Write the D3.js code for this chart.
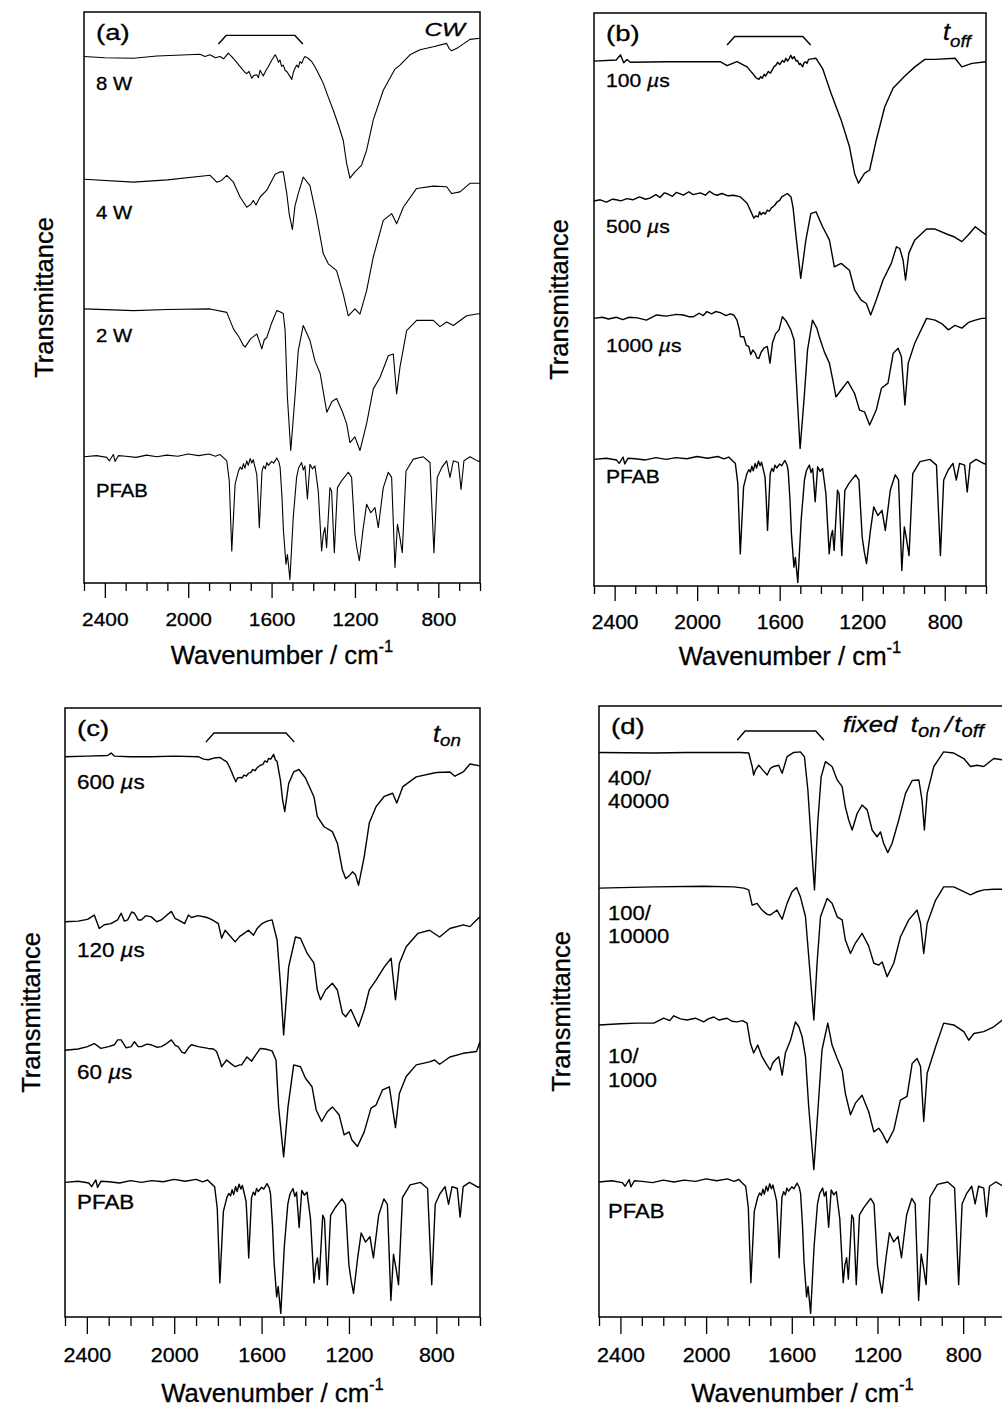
<!DOCTYPE html>
<html>
<head>
<meta charset="utf-8">
<script src="https://cdn.jsdelivr.net/npm/d3@7"></script>
<style>
  body { margin: 0; background: #fff; }
  svg { display: block; font-family: "Liberation Sans", Arial, Helvetica, sans-serif; }
  svg text { stroke: #000; stroke-width: 0.3px; }
</style>
</head>
<body>
<svg id="fig" width="1002" height="1408"></svg>
<script>
// IR spectra of PFAB and its plasma polymers, four panels

// axis
var majorTicks = [2400, 2000, 1600, 1200, 800];
var minorTicks = [2500, 2300, 2200, 2100, 1900, 1800, 1700, 1500, 1400, 1300, 1100, 1000, 900, 700, 600];

// monomer reference spectrum, same in every panel
var pfab = [[2500,22.1],[2440,22.3],[2391,22.0],[2378,21.4],[2359,22.5],[2351,21.3],[2335,22.3],[2300,22.2],
  [2250,22.0],[2200,22.4],[2150,22.1],[2103,22.4],[2050,22.2],[2000,22.6],[1950,22.3],[1900,22.6],[1870,22.2],
  [1847,22.5],[1830,21.9],[1815,21.4],[1803,17.9],[1791,5.6],[1775,17.3],[1759,19.6],[1750,20.3],[1742,19.9],
  [1735,20.9],[1728,20.1],[1719,21.4],[1712,20.6],[1703,21.8],[1695,21.0],[1688,21.6],[1680,20.4],[1671,19.0],
  [1665,15.0],[1659,9.7],[1652,15.0],[1646,19.6],[1638,20.5],[1630,20.0],[1623,21.1],[1615,20.6],[1600,21.3],
  [1590,21.0],[1575,21.9],[1565,21.2],[1559,20.2],[1550,15.0],[1543,9.1],[1531,3.3],[1524,5.0],[1512,0.6],
  [1496,11.5],[1480,18.5],[1470,20.2],[1456,21.1],[1448,19.8],[1440,20.5],[1428,14.7],[1416,20.8],[1404,20.0],
  [1392,20.5],[1376,16.1],[1360,5.6],[1352,8.5],[1344,9.7],[1336,6.2],[1320,16.7],[1312,16.1],[1299,5.3],
  [1284,16.7],[1264,17.9],[1232,19.4],[1216,18.5],[1200,8.5],[1190,6.0],[1179,3.9],[1160,9.7],[1144,13.8],
  [1124,12.3],[1104,13.2],[1088,9.7],[1064,16.7],[1040,19.4],[1024,18.5],[1008,2.7],[996,10.3],[984,7.9],
  [973,5.3],[955,19.6],[920,21.7],[872,22.1],[840,21.1],[821,5.3],[805,18.5],[784,20.2],[760,21.4],[744,18.5],
  [728,21.4],[704,21.1],[691,16.4],[677,21.4],[648,22.1],[608,21.3],[600,21.4]];

// (a) CW power series
var cw8 = [[2500,92.2],[2400,92.0],[2263,91.9],[2150,92.3],[2000,92.5],[1943,92.6],[1920,92.2],[1895,92.5],
  [1870,92.0],[1847,92.2],[1830,91.8],[1808,92.8],[1795,92.3],[1784,91.9],[1770,91.3],[1755,90.6],[1743,90.1],
  [1730,89.5],[1719,89.2],[1708,89.6],[1695,88.4],[1685,88.9],[1671,89.0],[1663,88.5],[1655,89.8],[1648,89.3],
  [1640,88.8],[1628,89.7],[1616,90.4],[1600,91.5],[1583,92.5],[1575,92.0],[1567,91.2],[1560,91.6],[1552,90.5],
  [1544,90.7],[1535,89.8],[1525,89.5],[1515,88.9],[1503,88.2],[1495,89.5],[1487,90.2],[1479,90.7],[1471,90.3],
  [1464,91.3],[1455,91.0],[1447,91.8],[1440,92.2],[1425,91.9],[1407,91.3],[1395,90.6],[1383,89.8],[1365,88.5],
  [1352,87.5],[1328,85.1],[1304,82.8],[1280,80.3],[1256,77.5],[1240,73.5],[1224,70.9],[1200,72.0],[1168,73.2],
  [1144,75.8],[1112,81.1],[1064,86.3],[1008,90.0],[984,90.7],[936,92.5],[888,93.4],[824,93.9],[760,94.5],
  [748,93.6],[736,93.2],[704,93.8],[648,95.2],[600,95.4]];
var cw4 = [[2500,70.7],[2263,70.2],[2100,70.6],[1895,71.4],[1863,70.2],[1840,70.5],[1815,71.4],[1783,70.2],
  [1751,67.6],[1719,65.8],[1700,66.3],[1688,67.0],[1675,66.2],[1655,67.6],[1623,68.8],[1583,71.6],[1560,72.0],
  [1544,72.0],[1527,68.2],[1515,64.5],[1500,61.9],[1488,66.0],[1472,68.2],[1448,71.1],[1416,69.6],[1384,64.1],
  [1352,57.7],[1328,55.9],[1288,54.7],[1256,50.6],[1232,46.8],[1200,48.0],[1176,47.1],[1144,51.2],[1112,57.1],
  [1064,63.5],[1024,64.7],[1000,62.9],[968,65.8],[904,69.1],[824,69.5],[760,69.4],[736,68.2],[696,68.5],
  [648,70.0],[600,70.0]];
var cw2 = [[2500,48.0],[2263,47.7],[2100,47.9],[1895,48.0],[1815,47.4],[1783,44.5],[1755,43.0],[1735,41.6],
  [1727,41.3],[1700,42.8],[1671,43.6],[1660,42.5],[1647,41.0],[1635,42.6],[1623,43.0],[1600,45.5],[1575,47.7],
  [1560,47.5],[1544,47.2],[1535,44.2],[1524,32.5],[1508,23.2],[1488,32.5],[1472,40.7],[1448,45.1],[1416,42.5],
  [1392,38.9],[1367,36.7],[1335,29.9],[1310,31.8],[1288,32.3],[1260,30.0],[1240,27.9],[1224,24.6],[1200,25.6],
  [1176,23.2],[1144,27.9],[1112,34.0],[1080,36.0],[1040,39.8],[1016,40.1],[1000,33.1],[984,37.8],[952,44.2],
  [904,46.0],[824,46.0],[792,44.9],[760,45.7],[728,45.1],[664,46.8],[600,47.2]];

// (b) t_off series
var off100 = [[2500,91.6],[2392,91.8],[2372,92.7],[2356,91.3],[2340,91.9],[2324,91.4],[2148,91.5],[1888,91.5],
  [1855,90.8],[1807,91.5],[1758,90.6],[1735,89.6],[1725,89.2],[1715,88.7],[1701,88.4],[1692,88.9],[1685,88.6],
  [1675,89.3],[1668,89.0],[1655,89.8],[1645,89.5],[1628,90.6],[1618,90.9],[1610,91.4],[1600,91.0],[1587,91.7],
  [1578,91.4],[1570,92.1],[1562,91.6],[1555,92.0],[1546,92.6],[1538,92.0],[1530,92.4],[1520,91.6],[1514,91.7],
  [1505,91.0],[1500,91.2],[1489,90.6],[1482,91.3],[1475,91.5],[1468,91.2],[1460,91.9],[1445,92.0],[1424,92.1],
  [1392,90.3],[1351,86.0],[1302,81.3],[1262,76.7],[1237,72.0],[1218,70.3],[1189,72.0],[1164,72.6],[1132,77.8],
  [1091,83.6],[1050,86.9],[993,89.0],[945,90.6],[896,91.9],[847,91.9],[750,92.1],[717,90.6],[668,91.2],[600,91.5]];
var off500 = [[2500,67.2],[2470,67.4],[2440,67.0],[2410,67.5],[2392,67.4],[2370,67.2],[2340,67.6],[2311,67.4],
  [2280,67.9],[2250,67.5],[2229,67.7],[2200,68.3],[2180,67.8],[2160,68.6],[2148,68.5],[2120,68.0],[2100,68.7],
  [2067,68.2],[2040,68.8],[2020,68.3],[1985,68.6],[1960,68.2],[1940,68.9],[1920,68.4],[1904,68.2],[1880,68.5],
  [1850,68.1],[1823,68.2],[1790,67.9],[1758,66.8],[1725,64.2],[1715,64.6],[1705,64.4],[1697,65.3],[1690,64.8],
  [1680,65.2],[1670,64.9],[1660,65.6],[1650,65.4],[1640,66.0],[1625,66.4],[1611,67.1],[1600,67.3],[1590,67.9],
  [1563,68.5],[1545,67.9],[1535,66.0],[1522,61.5],[1498,53.7],[1473,60.4],[1449,65.0],[1424,65.3],[1392,62.7],
  [1359,60.4],[1335,55.7],[1302,56.3],[1262,55.1],[1237,51.7],[1205,49.9],[1180,49.3],[1159,47.3],[1132,49.9],
  [1099,53.4],[1059,56.3],[1034,59.2],[1018,58.9],[1002,56.9],[990,53.4],[974,58.1],[945,60.4],[888,62.3],
  [847,62.3],[782,61.3],[758,61.0],[717,60.1],[685,61.3],[652,62.7],[620,61.8],[600,61.3]];
var off1000 = [[2500,46.7],[2460,46.9],[2430,46.6],[2392,46.9],[2360,46.5],[2330,46.9],[2290,46.8],[2246,46.4],
  [2220,46.9],[2197,47.3],[2150,47.1],[2100,47.4],[2067,47.3],[2040,47.0],[2018,47.0],[1990,47.6],[1970,47.2],
  [1953,47.9],[1930,47.5],[1910,47.9],[1888,47.7],[1860,47.2],[1840,47.5],[1823,47.3],[1807,46.4],[1795,44.7],
  [1790,43.5],[1774,43.5],[1762,42.0],[1750,41.8],[1740,40.4],[1730,41.2],[1718,40.6],[1710,39.8],[1701,39.7],
  [1690,40.8],[1676,41.5],[1660,41.8],[1647,38.9],[1635,42.4],[1620,44.0],[1603,44.7],[1587,47.0],[1570,46.3],
  [1546,44.7],[1530,42.9],[1515,33.0],[1501,24.0],[1481,33.0],[1465,41.2],[1441,46.4],[1420,45.0],[1408,43.5],
  [1384,40.9],[1359,38.9],[1343,36.0],[1327,33.0],[1302,34.2],[1270,35.7],[1237,33.6],[1213,30.7],[1189,30.4],
  [1164,28.1],[1132,30.7],[1107,34.5],[1075,35.4],[1050,40.6],[1026,41.5],[1010,40.0],[993,31.6],[977,38.9],
  [945,42.4],[888,46.7],[847,46.4],[815,45.8],[782,44.7],[750,45.5],[717,45.0],[685,46.0],[652,46.4],[620,46.7],
  [600,46.7]];

// (c) t_on series
var on600 = [[2500,92.0],[2400,92.1],[2305,92.2],[2289,92.6],[2274,92.1],[2200,92.0],[2105,92.0],[2000,92.1],
  [1890,92.0],[1865,91.6],[1844,91.5],[1815,91.8],[1791,91.9],[1775,91.5],[1760,91.2],[1748,90.4],[1737,89.5],
  [1728,88.7],[1718,87.9],[1710,88.5],[1698,88.6],[1690,88.5],[1680,89.0],[1670,88.8],[1660,89.3],[1650,89.4],
  [1640,89.9],[1630,89.7],[1620,90.2],[1606,90.6],[1595,90.7],[1585,91.3],[1575,91.1],[1568,91.7],[1558,91.6],
  [1545,92.4],[1537,91.5],[1529,91.2],[1514,88.2],[1504,85.0],[1494,83.0],[1476,87.6],[1453,89.5],[1429,89.9],
  [1399,88.5],[1360,85.4],[1345,82.2],[1314,80.5],[1276,79.7],[1253,77.8],[1230,73.4],[1215,72.0],[1200,72.4],
  [1184,73.1],[1170,72.6],[1156,70.9],[1130,75.6],[1107,81.1],[1076,83.8],[1038,85.5],[1000,86.0],[981,84.4],
  [953,87.1],[892,88.7],[800,89.4],[738,89.5],[715,88.8],[677,89.5],[646,90.8],[600,90.5]];
var on120 = [[2500,64.9],[2440,65.0],[2397,65.3],[2366,66.0],[2343,63.8],[2320,64.4],[2290,64.6],[2259,65.2],
  [2243,66.3],[2228,65.0],[2213,65.2],[2195,66.5],[2182,66.3],[2165,65.2],[2151,65.2],[2130,65.9],[2105,65.7],
  [2080,64.9],[2059,65.2],[2040,65.8],[2013,66.6],[1995,65.4],[1982,65.2],[1952,64.6],[1935,66.0],[1921,65.6],
  [1890,65.9],[1850,65.6],[1830,65.3],[1798,64.6],[1783,62.2],[1767,63.5],[1745,62.6],[1721,61.6],[1700,62.5],
  [1691,62.7],[1660,63.5],[1637,62.7],[1620,63.8],[1598,64.6],[1575,65.0],[1552,65.2],[1529,61.9],[1514,54.8],
  [1499,46.3],[1476,57.5],[1445,62.4],[1422,62.2],[1391,59.7],[1360,58.1],[1345,53.7],[1330,52.1],[1307,53.7],
  [1276,54.8],[1253,53.7],[1230,49.9],[1215,49.3],[1191,50.5],[1156,47.7],[1130,50.4],[1107,53.7],[1076,55.3],
  [1038,57.5],[1007,58.9],[987,52.1],[969,58.1],[938,60.8],[884,63.0],[831,63.5],[785,62.4],[738,63.8],
  [677,64.4],[646,64.1],[616,65.2],[600,65.7]];
var on60 = [[2500,43.8],[2440,44.0],[2397,44.4],[2366,44.9],[2336,44.1],[2300,44.4],[2274,44.7],[2259,45.5],
  [2243,45.5],[2220,44.2],[2197,44.4],[2182,45.2],[2165,44.4],[2151,44.4],[2125,44.8],[2105,44.7],[2080,44.3],
  [2059,44.4],[2035,44.9],[2013,45.5],[1995,44.6],[1982,44.4],[1965,43.5],[1952,43.3],[1935,44.2],[1921,44.7],
  [1890,44.4],[1844,44.1],[1820,44.0],[1806,43.6],[1790,42.0],[1783,41.1],[1760,42.2],[1740,41.6],[1721,41.1],
  [1700,41.4],[1691,41.4],[1667,42.7],[1645,42.0],[1637,42.5],[1606,44.1],[1583,44.0],[1552,43.7],[1534,42.2],
  [1522,34.5],[1499,26.3],[1479,34.5],[1453,41.4],[1422,41.1],[1399,39.2],[1369,37.8],[1350,34.0],[1325,32.1],
  [1299,33.7],[1276,34.5],[1245,33.2],[1222,29.9],[1199,30.4],[1187,29.1],[1161,28.0],[1130,30.4],[1099,34.3],
  [1076,34.8],[1046,37.3],[1015,37.8],[987,31.1],[969,36.7],[938,39.5],[892,41.4],[831,41.9],[808,42.2],
  [785,41.5],[738,42.7],[677,43.3],[616,43.6],[600,45.2]];

// (d) fixed t_on/t_off series
var fix400 = [[2500,92.4],[2244,92.3],[2089,92.4],[1840,92.4],[1801,92.3],[1785,90.1],[1778,88.7],[1770,89.5],
  [1754,90.3],[1735,89.5],[1715,88.7],[1700,89.8],[1684,90.1],[1661,90.3],[1645,89.0],[1622,91.7],[1591,92.4],
  [1560,92.5],[1541,91.7],[1525,86.3],[1510,78.1],[1494,69.9],[1479,80.8],[1463,88.4],[1443,90.9],[1412,90.1],
  [1388,87.9],[1365,86.8],[1350,83.5],[1334,81.3],[1318,79.7],[1295,82.4],[1272,83.8],[1248,83.0],[1225,79.7],
  [1202,78.6],[1186,79.4],[1171,77.5],[1152,76.0],[1132,77.5],[1101,81.3],[1069,85.7],[1038,87.8],[1007,87.9],
  [992,84.6],[981,79.7],[968,85.7],[937,90.1],[891,92.5],[844,92.3],[797,91.4],[766,90.1],[735,90.3],[704,90.1],
  [657,91.4],[617,91.2],[600,91.3]];
var fix100 = [[2500,70.2],[2244,70.4],[2011,70.5],[1871,70.4],[1824,70.2],[1801,69.9],[1785,67.4],[1762,67.7],
  [1739,66.6],[1715,65.9],[1700,65.8],[1669,66.6],[1645,65.1],[1622,67.7],[1599,69.6],[1578,70.3],[1560,68.8],
  [1536,65.5],[1521,59.0],[1497,48.6],[1482,57.9],[1466,65.5],[1435,68.5],[1412,67.7],[1388,65.5],[1365,65.0],
  [1350,61.7],[1326,59.5],[1303,61.2],[1272,62.8],[1241,60.7],[1217,57.9],[1194,57.6],[1178,58.1],[1155,55.7],
  [1124,57.9],[1093,62.2],[1054,65.0],[1015,66.6],[999,64.4],[984,59.5],[968,64.4],[929,68.2],[891,70.4],
  [844,70.4],[797,69.6],[766,69.1],[735,69.6],[704,69.9],[657,70.0],[600,70.0]];
var fix10 = [[2500,47.8],[2400,48.0],[2322,48.1],[2244,48.1],[2198,48.9],[2170,48.5],[2151,49.3],[2120,48.8],
  [2089,48.6],[2050,48.9],[2011,48.3],[1990,48.8],[1964,49.1],[1940,48.6],[1902,48.9],[1880,48.4],[1855,48.3],
  [1830,48.5],[1809,48.1],[1793,44.8],[1778,43.2],[1759,44.5],[1739,42.6],[1715,41.2],[1700,40.4],[1690,41.5],
  [1676,42.1],[1661,42.6],[1645,39.6],[1630,43.2],[1606,45.3],[1583,48.3],[1567,47.5],[1552,45.9],[1536,42.6],
  [1521,34.4],[1497,24.1],[1477,34.4],[1459,43.7],[1432,48.1],[1412,44.5],[1388,42.3],[1365,40.4],[1350,36.6],
  [1326,33.1],[1303,35.0],[1272,36.3],[1241,33.6],[1217,30.3],[1194,30.9],[1178,30.1],[1155,28.5],[1124,30.6],
  [1093,35.5],[1062,36.1],[1038,41.5],[1015,42.3],[999,41.0],[984,32.0],[968,39.9],[929,44.2],[891,48.1],
  [844,47.8],[797,46.7],[774,45.3],[750,46.4],[704,46.7],[657,47.5],[617,48.6],[600,48.9]];

// bracket over the 1850-1450 region
var bracketWave = [1855, 1818, 1488, 1450];
var bracketLevel = [94.4, 95.9, 95.9, 94.4];

var tagsText = ['(a)', '(b)', '(c)', '(d)'];
var labelsA = ['8 W', '4 W', '2 W', 'PFAB'];
var labelsB = ['100 |µ|s', '500 |µ|s', '1000 |µ|s', 'PFAB'];
var labelsC = ['600 |µ|s', '120 |µ|s', '60 |µ|s', 'PFAB'];
var labelsD = ['400/\n40000', '100/\n10000', '10/\n1000', 'PFAB'];
var levelsA = [86.3, 63.8, 42.2, 15.1];
var levelsB = [87.0, 61.6, 40.9, 17.9];
var levelsC = [86.7, 59.1, 39.0, 17.7];
var levelsD = [87.1, 65.0, 41.5, 16.2];

var panels = [
  { box: [84, 480, 12, 583], traces: [cw8, cw4, cw2, pfab], labels: labelsA, levels: levelsA,
    lw: 1.1, lab: { dx: 12, size: 17.5, sx: 1.16 }, tick: { size: 19, sx: 1.1, off: 43, major: 15, minor: 8 },
    title: { y: 664, ylabX: 53 }, corner: 'a' },
  { box: [594, 986, 13, 586], traces: [off100, off500, off1000, pfab], labels: labelsB, levels: levelsB,
    lw: 1.4, lab: { dx: 12, size: 18.5, sx: 1.14 }, tick: { size: 19.5, sx: 1.08, off: 43, major: 15, minor: 8 },
    title: { y: 665, ylabX: 568 }, corner: 'b' },
  { box: [65, 480, 708, 1317], traces: [on600, on120, on60, pfab], labels: labelsC, levels: levelsC,
    lw: 1.4, lab: { dx: 12, size: 19.5, sx: 1.15 }, tick: { size: 20.5, sx: 1.05, off: 45, major: 17, minor: 9 },
    title: { y: 1402, ylabX: 40 }, corner: 'c' },
  { box: [599, 1006, 706, 1317], traces: [fix400, fix100, fix10, pfab], labels: labelsD, levels: levelsD,
    lw: 1.4, lab: { dx: 9, size: 21, sx: 1.05, lh: 23.3 }, tick: { size: 20.5, sx: 1.05, off: 45, major: 17, minor: 9 },
    title: { y: 1402, ylabX: 570 }, corner: 'd' }
];

var svg = d3.select('#fig');
svg.append('rect').attr('width', 1002).attr('height', 1408).attr('fill', '#fff');

// text made of runs: {t, it, sz, dy, dx}
function runsText(parent, x, y, runs, size, sx, anchor) {
  var g = parent.append('g').attr('transform', 'translate(' + x + ',' + y + ') scale(' + sx + ',1)');
  var t = g.append('text').attr('font-size', size).attr('text-anchor', anchor || 'start').attr('fill', '#000');
  runs.forEach(function(r) {
    var s = t.append('tspan').text(r.t);
    if (r.it) s.attr('font-style', 'italic');
    if (r.sz) s.attr('font-size', r.sz);
    if (r.dy) s.attr('dy', r.dy);
    if (r.dx) s.attr('dx', r.dx);
  });
  return t;
}

// "100 |µ|s" -> µ in italics
function labelRuns(str) {
  return str.split('|').map(function(part, i) { return { t: part, it: i % 2 === 1 }; });
}

function corner(g, p) {
  var top = p.box[2], right = p.box[1];
  if (p.corner === 'a') {
    runsText(g, right - 15, top + 24, [{ t: 'CW', it: true }], 19, 1.28, 'end');
  } else if (p.corner === 'b') {
    runsText(g, right - 43, top + 27, [{ t: 't', it: true }, { t: 'off', it: true, sz: 17, dy: 7 }], 23, 1.1);
  } else if (p.corner === 'c') {
    runsText(g, right - 47, top + 34, [{ t: 't', it: true }, { t: 'on', it: true, sz: 17, dy: 4 }], 23, 1.1);
  } else {
    runsText(g, 843, top + 26, [{ t: 'fixed', it: true }, { t: 't', it: true, dx: 12 },
      { t: 'on', it: true, sz: 18, dy: 5 }, { t: '/', it: true, dy: -5, dx: 4 }, { t: 't', it: true, dx: 2 },
      { t: 'off', it: true, sz: 18, dy: 5 }], 23, 1.12);
  }
}

function drawPanel(p, i) {
  var L = p.box[0], R = p.box[1], T = p.box[2], B = p.box[3];
  var g = svg.append('g');
  var x = d3.scaleLinear().domain([2500, 600]).range([L, R]);
  var y = d3.scaleLinear().domain([0, 100]).range([B, T]);
  var line = d3.line().x(function(d) { return x(d[0]); }).y(function(d) { return y(d[1]); });

  g.selectAll('path.trace').data(p.traces).enter().append('path')
    .attr('class', 'trace').attr('d', line)
    .attr('fill', 'none').attr('stroke', '#000').attr('stroke-width', p.lw).attr('stroke-linejoin', 'round');

  // bracket
  g.append('path').datum(d3.zip(bracketWave, bracketLevel)).attr('d', line)
    .attr('fill', 'none').attr('stroke', '#000').attr('stroke-width', 1.4);

  // frame
  g.append('rect').attr('x', L).attr('y', T).attr('width', R - L).attr('height', B - T)
    .attr('fill', 'none').attr('stroke', '#000').attr('stroke-width', 1.5);

  // ticks
  var minorAxis = g.append('g').attr('transform', 'translate(0,' + B + ')')
    .call(d3.axisBottom(x).tickValues(minorTicks).tickSize(p.tick.minor).tickFormat(''));
  var majorAxis = g.append('g').attr('transform', 'translate(0,' + B + ')')
    .call(d3.axisBottom(x).tickValues(majorTicks).tickSize(p.tick.major).tickFormat(d3.format('d')));
  [minorAxis, majorAxis].forEach(function(a) {
    a.select('.domain').remove();
    a.selectAll('.tick line').attr('stroke', '#000').attr('stroke-width', 1.3);
  });
  majorAxis.selectAll('.tick text')
    .attr('y', p.tick.off).attr('dy', 0).attr('fill', '#000')
    .attr('font-size', p.tick.size).attr('font-family', '"Liberation Sans", Arial, sans-serif')
    .attr('transform', 'scale(' + p.tick.sx + ',1)');

  // axis titles
  runsText(g, (L + R) / 2, p.title.y,
    [{ t: 'Wavenumber / cm' }, { t: '-1', sz: 16, dy: -12 }], 25, 1.03, 'middle');
  var yl = g.append('g').attr('transform', 'translate(' + p.title.ylabX + ',' + ((T + B) / 2) + ') rotate(-90)');
  yl.append('text').attr('text-anchor', 'middle').attr('font-size', 25.5).text('Transmittance');

  // panel tag
  runsText(g, L + 12, T + 28, [{ t: tagsText[i] }], 22, 1.25);
  corner(g, p);

  // trace labels
  p.labels.forEach(function(lbl, k) {
    var lines = lbl.split('\n');
    lines.forEach(function(ln, j) {
      runsText(g, L + p.lab.dx, y(p.levels[k]) + j * (p.lab.lh || 0), labelRuns(ln), p.lab.size, p.lab.sx);
    });
  });
}

panels.forEach(drawPanel);
</script>
</body>
</html>
